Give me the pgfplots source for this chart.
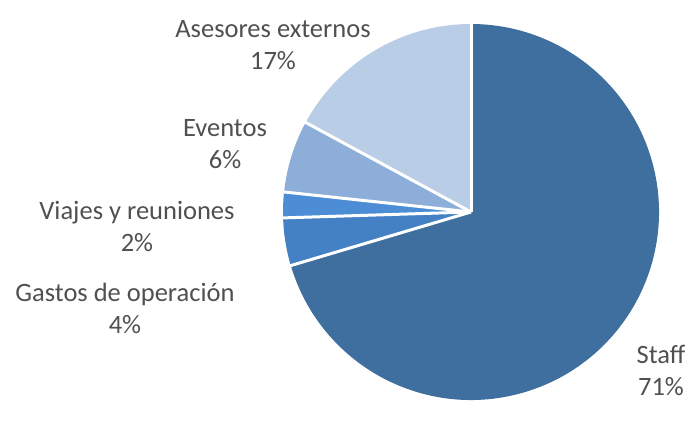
\documentclass[border=0pt]{standalone}
\usepackage{pgfplots}
\pgfplotsset{compat=1.18}
\usepackage{fontspec}
\setmainfont{Carlito}
\definecolor{cStaff}{HTML}{3F6F9F}
\definecolor{cGast}{HTML}{4380C4}
\definecolor{cViaj}{HTML}{4C8DD6}
\definecolor{cEven}{HTML}{8DAED9}
\definecolor{cAses}{HTML}{B9CDE6}
\definecolor{lbl}{HTML}{505050}
\begin{document}
\begin{tikzpicture}
\begin{axis}[
  width=699pt, height=400pt, scale only axis,
  xmin=0, xmax=699, ymin=0, ymax=400,
  hide axis, clip=false]
\pgfplotsextra{
  \path (axis cs:0,0) rectangle (axis cs:699,400);
  \gdef\cum{90}
  % value (%) / colour, counter-clockwise from 12 o'clock
  \foreach \v/\c in {17.1/cAses, 6.2/cEven, 2.2/cViaj, 4.1/cGast, 70.4/cStaff}{
    \pgfmathsetmacro\a{\cum}
    \pgfmathsetmacro\b{\cum+3.6*\v}
    \fill[\c] (axis cs:471,188) -- ++(\a:188pt) arc[start angle=\a, end angle=\b, radius=188pt] -- cycle;
    \xdef\cum{\b}
  }
  \gdef\cum{90}
  \foreach \v in {17.1, 6.2, 2.2, 4.1, 70.4}{
    \draw[white, line width=3pt] (axis cs:471,188) -- ++(\cum:190pt);
    \pgfmathsetmacro\b{\cum+3.6*\v}
    \xdef\cum{\b}
  }
  \tikzset{lab/.style={align=center, text=lbl, font=\fontsize{26.5}{32}\selectfont, inner sep=0pt}}
  \node[lab] at (axis cs:273,355) {Asesores externos\\17\%};
  \node[lab] at (axis cs:225,256) {Eventos\\6\%};
  \node[lab] at (axis cs:137,174) {Viajes y reuniones\\2\%};
  \node[lab] at (axis cs:125,92) {Gastos de operación\\4\%};
  \node[lab] at (axis cs:661,30) {Staff\\71\%};
}
\end{axis}
\end{tikzpicture}
\end{document}
